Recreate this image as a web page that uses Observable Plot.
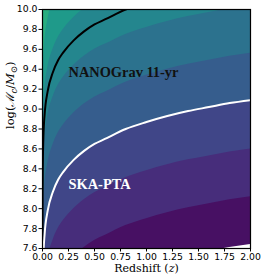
<!DOCTYPE html>
<html><head><meta charset="utf-8">
<script src="https://cdn.jsdelivr.net/npm/d3@7"></script>
<script src="https://cdn.jsdelivr.net/npm/@observablehq/plot@0.6"></script>
<style>body{margin:0;background:#fff}</style>
</head><body><div id="chart"></div>
<script>
// Redshift grid (x)
const redshift = [0.0001, 0.001, 0.003, 0.01, 0.02, 0.05, 0.1, 0.15, 0.2, 0.3, 0.4, 0.5, 0.6, 0.8, 1.0, 1.2, 1.4, 1.6, 1.8, 2.0];
// Filled-contour boundaries, log(Mc) read along each boundary (highest to lowest)
const contour1 = [8.74, 9.34, 9.63, 9.95, 10.13, 10.37, 10.56, 10.68, 10.76, 10.88, 10.97, 11.04, 11.09, 11.19, 11.26, 11.32, 11.37, 11.41, 11.45, 11.48];
const contour2 = [8.26, 8.86, 9.15, 9.47, 9.65, 9.89, 10.08, 10.20, 10.28, 10.40, 10.49, 10.56, 10.61, 10.71, 10.78, 10.84, 10.89, 10.93, 10.97, 11.00];
const contour3 = [7.78, 8.38, 8.67, 8.99, 9.17, 9.41, 9.60, 9.72, 9.80, 9.92, 10.01, 10.08, 10.13, 10.23, 10.30, 10.36, 10.41, 10.45, 10.49, 10.52];
const contour4 = [7.30, 7.90, 8.19, 8.51, 8.69, 8.93, 9.12, 9.24, 9.32, 9.44, 9.53, 9.60, 9.65, 9.75, 9.82, 9.88, 9.93, 9.97, 10.01, 10.04];
const contour5 = [6.82, 7.42, 7.71, 8.03, 8.21, 8.45, 8.64, 8.76, 8.84, 8.96, 9.05, 9.12, 9.17, 9.27, 9.34, 9.40, 9.45, 9.49, 9.53, 9.56];
const contour6 = [6.34, 6.94, 7.23, 7.55, 7.73, 7.97, 8.16, 8.28, 8.36, 8.48, 8.57, 8.64, 8.69, 8.79, 8.86, 8.92, 8.97, 9.01, 9.05, 9.08];
const contour7 = [5.86, 6.46, 6.75, 7.07, 7.25, 7.49, 7.68, 7.80, 7.88, 8.00, 8.09, 8.16, 8.21, 8.31, 8.38, 8.44, 8.49, 8.53, 8.57, 8.60];
const contour8 = [5.38, 5.98, 6.27, 6.59, 6.77, 7.01, 7.20, 7.32, 7.40, 7.52, 7.61, 7.68, 7.73, 7.83, 7.90, 7.96, 8.01, 8.05, 8.09, 8.12];
const contour9 = [4.90, 5.50, 5.79, 6.11, 6.29, 6.53, 6.72, 6.84, 6.92, 7.04, 7.13, 7.20, 7.25, 7.35, 7.42, 7.48, 7.53, 7.57, 7.61, 7.64];
// Sensitivity curves
const nanogravCurve = [7.55, 8.15, 8.44, 8.76, 8.94, 9.18, 9.37, 9.49, 9.57, 9.69, 9.78, 9.85, 9.90, 10.00, 10.07, 10.13, 10.18, 10.22, 10.26, 10.29];
const skaCurve = [6.35, 6.95, 7.24, 7.56, 7.74, 7.98, 8.17, 8.29, 8.37, 8.49, 8.58, 8.65, 8.70, 8.80, 8.87, 8.93, 8.98, 9.02, 9.06, 9.09];
// Labels
const curveLabels = ["NANOGrav 11-yr", "SKA-PTA"];
const labelZ = [0.25, 0.25];
const labelLogM = [9.37, 8.24];
const xTicks = [0, 0.25, 0.5, 0.75, 1.0, 1.25, 1.5, 1.75, 2.0];
const yTicks = [7.6, 7.8, 8.0, 8.2, 8.4, 8.6, 8.8, 9.0, 9.2, 9.4, 9.6, 9.8, 10.0];
const xLabel = "Redshift (z)";
const yLabel = "log(ℳc/M⊙)";

const contours = [contour1, contour2, contour3, contour4, contour5, contour6, contour7, contour8, contour9];
const nBands = 12;
const bandColor = i => d3.interpolateViridis((i + 0.5) / nBands); // i = 0 is lowest band
const rows = arr => redshift.map((z, i) => ({z, m: arr[i]}));

const areaMarks = contours.map((c, k) => {
  const bandIndex = contours.length - 1 - k - 1;
  const fill = bandIndex >= 0 ? bandColor(bandIndex) : "white";
  return Plot.areaY(rows(c), {x: "z", y1: 5, y2: "m", fill, curve: "monotone-x", clip: true});
});

const svg = Plot.plot({
  width: 261, height: 278,
  marginLeft: 42, marginRight: 11, marginTop: 9, marginBottom: 30,
  style: {fontFamily: "DejaVu Sans", fontSize: "9.3px", color: "black", background: "white"},
  x: {domain: [0, 2]},
  y: {domain: [7.6, 10]},
  marks: [
    Plot.frame({fill: bandColor(contours.length - 1), stroke: null}),
    ...areaMarks,
    Plot.line(rows(nanogravCurve), {x: "z", y: "m", stroke: "black", strokeWidth: 2, curve: "monotone-x", clip: true}),
    Plot.line(rows(skaCurve), {x: "z", y: "m", stroke: "white", strokeWidth: 2, curve: "monotone-x", clip: true}),
    Plot.text([0], {x: labelZ[0], y: labelLogM[0], text: [curveLabels[0]], textAnchor: "start", fill: "#111", fontFamily: "Liberation Serif", fontWeight: "bold", fontSize: 14.4}),
    Plot.text([0], {x: labelZ[1], y: labelLogM[1], text: [curveLabels[1]], textAnchor: "start", fill: "white", fontFamily: "Liberation Serif", fontWeight: "bold", fontSize: 14.4}),
    Plot.frame({stroke: "black", strokeWidth: 1.2}),
    Plot.axisX({ticks: xTicks, tickFormat: d3.format(".2f"), tickSize: 3.5, tickPadding: 1.5, label: null}),
    Plot.axisY({ticks: yTicks, tickFormat: d3.format(".1f"), tickSize: 3.5, tickPadding: 1.5, label: null}),
    Plot.text([xLabel], {frameAnchor: "bottom", dy: 23, fontFamily: "DejaVu Serif", fontSize: 11, fill: "black"}),
    Plot.text([yLabel], {frameAnchor: "left", dx: -32, rotate: -90, fontFamily: "DejaVu Serif", fontSize: 11.5, fill: "black"})
  ]
});

Array.from(svg.querySelectorAll("text")).forEach(t => {
  if (t.textContent === yLabel) {
    const sel = d3.select(t); sel.text("");
    sel.append("tspan").text("log(");
    sel.append("tspan").attr("font-style", "italic").text("ℳ");
    sel.append("tspan").attr("dy", 2.5).attr("font-size", 8.5).attr("font-style", "italic").text("c");
    sel.append("tspan").attr("dy", -2.5).text("/");
    sel.append("tspan").attr("font-style", "italic").text("M");
    sel.append("tspan").attr("dy", 2.5).attr("font-size", 8.5).text("⊙");
    sel.append("tspan").attr("dy", -2.5).text(")");
  } else if (t.textContent === xLabel) {
    const sel = d3.select(t); sel.text("");
    sel.append("tspan").text("Redshift (");
    sel.append("tspan").attr("font-style", "italic").text("z");
    sel.append("tspan").text(")");
  }
});
document.getElementById("chart").appendChild(svg);
</script>
</body></html>
